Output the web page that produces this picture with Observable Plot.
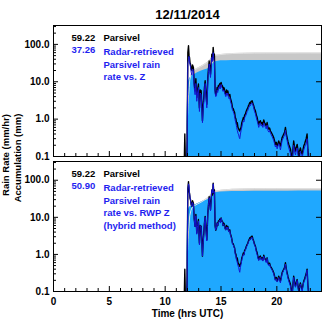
<!DOCTYPE html>
<html>
<head>
<meta charset="utf-8">
<script src="https://cdn.jsdelivr.net/npm/d3@7"></script>
<script src="https://cdn.jsdelivr.net/npm/@observablehq/plot@0.6"></script>
<style>
  html, body { margin: 0; padding: 0; background: white; }
  #wrap { position: relative; width: 322px; height: 320px; overflow: hidden; font-family: "Liberation Sans", Arial, sans-serif; }
  #wrap svg { display: block; }
  .yt { position: absolute; transform: translate(-50%, -50%) rotate(-90deg); white-space: nowrap; font: bold 9.5px "Liberation Sans", Arial, sans-serif; color: #000; }
</style>
</head>
<body>
<div id="wrap">
  <div id="top"></div>
  <div id="bot"></div>
  <div class="yt" style="left:5px; top:155px;">Rain Rate (mm/hr)</div>
  <div class="yt" style="left:17px; top:158px;">Accumulation (mm)</div>
</div>
<script>
// ---------------- data ----------------
const title = "12/11/2014";
const parsivelTotal = "59.22";
const radarTotalZ = "37.26";
const radarTotalHybrid = "50.90";
const legendParsivel = "Parsivel";
const legendZ = "Radar-retrieved\nParsivel rain\nrate vs. Z";
const legendHybrid = "Radar-retrieved\nParsivel rain\nrate vs. RWP Z\n(hybrid method)";

const xTicks = [0, 5, 10, 15, 20];
const xMinorTicks = [1,2,3,4,6,7,8,9,11,12,13,14,16,17,18,19,21,22,23];
const yTicks = [0.1, 1, 10, 100];
const yMinorTicks = [0.2,0.3,0.4,0.5,0.6,0.7,0.8,0.9,2,3,4,5,6,7,8,9,20,30,40,50,60,70,80,90,200,300];

// rain rate time (hrs UTC)
const rateTime = [11.70,11.76,11.82,11.95,12.03,12.09,12.14,12.18,12.23,12.27,12.33,12.39,12.45,12.53,12.60,12.68,12.75,12.83,12.90,12.98,
13.03,13.07,13.14,13.22,13.28,13.34,13.40,13.46,13.52,13.58,13.65,13.73,13.78,13.82,13.88,13.94,14.00,14.06,14.12,14.18,
14.24,14.30,14.36,14.41,14.47,14.53,14.59,14.65,14.71,14.77,14.83,14.90,14.95,15.01,15.07,15.13,15.19,15.25,15.31,15.37,
15.43,15.50,15.55,15.61,15.67,15.73,15.79,15.85,15.91,15.97,16.03,16.10,16.16,16.22,16.28,16.34,16.40,16.46,16.52,16.58,
16.64,16.68,16.74,16.80,16.86,16.92,17.00,17.06,17.12,17.18,17.25,17.34,17.40,17.46,17.52,17.58,17.64,17.70,17.79,17.86,
17.93,18.00,18.08,18.16,18.24,18.31,18.38,18.45,18.53,18.60,18.68,18.75,18.83,18.90,18.98,19.05,19.13,19.20,19.28,19.35,
19.43,19.50,19.58,19.65,19.72,19.80,19.87,19.95,20.03,20.10,20.17,20.25,20.32,20.40,20.47,20.55,20.62,20.70,20.77,20.85,
20.92,21.00,21.07,21.15,21.22,21.30,21.37,21.44,21.51,21.58,21.67,21.75,21.82,21.90,21.96,22.04,22.11,22.19,22.27,22.34,
22.41,22.49,22.56,22.63,22.71,22.78,22.86,22.95];
// Parsivel rain rate (mm/hr)
const rateParsivel = [0.05,0.4,0.05,0.08,60,92,50,45,32,30,22,20,28,24,9,5.7,12,3.8,6,8.7,
3.5,2.0,6,5.7,2.5,0.9,2.2,3.8,7,10.6,5,2.5,6,13,22,36,25,16,30,55,
40,83,45,55,6,4.5,5,7,6,8,7.8,9,7.5,9.6,8,7.8,6,7,6.4,5,
4.7,6,5,5.7,4.5,4.2,4.6,3.5,3.1,2.6,2.0,1.9,1.67,1.5,1.1,1.0,0.73,0.8,0.6,0.55,
0.5,0.48,0.55,0.6,0.8,0.9,1.1,1.0,1.3,1.36,1.6,1.85,2.0,2.3,2.5,2.8,2.6,3.0,3.1,2.6,
2.27,1.9,1.67,1.3,1.1,0.85,0.73,0.85,0.9,0.75,0.81,0.7,0.95,0.8,0.73,0.65,0.81,0.6,0.54,0.58,
0.48,0.44,0.40,0.36,0.32,0.26,0.21,0.24,0.19,0.22,0.26,0.22,0.19,0.25,0.32,0.36,0.40,0.45,0.6,0.4,
0.32,0.25,0.21,0.18,0.157,0.11,0.08,0.15,0.26,0.18,0.14,0.18,0.21,0.14,0.104,0.14,0.17,0.13,0.115,0.15,
0.19,0.22,0.26,0.3,0.40,0.15,0.08,0.05];
// radar-retrieved rain rate vs. Z (mm/hr)
const rateRadarZ = [0.05,0.05,0.05,0.06,30,40,48,35,28,25,18,15,22,20,7,4.5,9,3,5,7,
2.8,1.6,5,4.5,2,0.8,1.8,3,6,9,4,2,5,11,18,30,20,13,25,45,
35,60,38,35,5,4,4.2,6,5.2,7,6.5,8,6.5,8.5,7,6.8,5.5,6,5.5,4.5,
4,5,4.3,5,3.8,3.5,3.8,3,2.6,2.2,1.7,1.6,1.4,1.2,0.9,0.8,0.6,0.5,0.42,0.38,
0.32,0.3,0.4,0.5,0.6,0.75,0.9,0.85,1.1,1.2,1.3,1.6,1.7,2.0,2.1,2.4,2.3,2.6,2.7,2.4,
2.0,1.6,1.4,1.1,0.9,0.75,0.6,0.72,0.8,0.65,0.7,0.6,0.8,0.68,0.6,0.55,0.7,0.5,0.45,0.5,
0.42,0.38,0.34,0.3,0.27,0.22,0.18,0.2,0.16,0.19,0.22,0.19,0.15,0.2,0.27,0.3,0.34,0.38,0.5,0.34,
0.27,0.2,0.17,0.14,0.12,0.09,0.07,0.12,0.2,0.14,0.11,0.15,0.17,0.11,0.085,0.12,0.14,0.1,0.09,0.12,
0.15,0.18,0.2,0.22,0.3,0.12,0.06,0.05];
// radar-retrieved rain rate vs. RWP Z, hybrid (mm/hr)
const rateRadarHybrid = [0.05,0.05,0.05,0.06,55,80,70,45,35,28,22,20,25,22,9,5.5,11,3.5,6,8,
3.2,1.8,6,5.5,2.3,0.9,2,3.5,7,10,4.5,2.3,6,13,21,34,24,15,30,55,
45,80,45,50,6,4.5,5,7,6,7.5,7.5,8.5,7,9.5,8,7.5,6,6.5,6,5,
4.5,5.5,4.8,5.5,4.3,4,4.4,3.3,3,2.5,1.9,1.8,1.6,1.4,1.0,0.9,0.7,0.6,0.5,0.45,
0.36,0.33,0.45,0.55,0.7,0.85,1.0,0.95,1.25,1.3,1.5,1.75,1.9,2.2,2.4,2.6,2.5,2.8,2.9,2.5,
2.2,1.8,1.6,1.2,1.0,0.8,0.68,0.8,0.85,0.7,0.78,0.66,0.9,0.75,0.7,0.6,0.78,0.55,0.5,0.55,
0.45,0.42,0.38,0.34,0.3,0.24,0.2,0.22,0.18,0.2,0.24,0.2,0.17,0.23,0.3,0.34,0.38,0.42,0.55,0.38,
0.3,0.23,0.19,0.16,0.14,0.1,0.08,0.14,0.24,0.16,0.13,0.17,0.2,0.13,0.1,0.13,0.16,0.12,0.1,0.14,
0.18,0.2,0.24,0.28,0.38,0.14,0.07,0.05];

// accumulation time (hrs UTC)
const accTime = [11.76,11.85,11.92,11.97,12.0,12.05,12.1,12.15,12.2,12.3,12.4,12.6,12.9,13.2,13.5,13.8,14.0,14.2,14.4,14.6,15.0,15.5,16.0,17.0,18.0,19.0,20.0,21.0,22.0,23.0,24.0];
const accParsivel = [0.1,0.15,0.3,0.7,1.2,2.5,4.5,7,11,15,18,20.5,23,25.5,29,33,38,44,49,51.5,53.5,55.5,56.8,57.8,58.6,58.9,59.05,59.12,59.18,59.22,59.22];
const accRadarZ = [0.1,0.1,0.1,1.5,4,8,10.5,11.5,12.3,13.5,14.5,15.5,17.5,19,20.5,22,24,28,33,35,36.2,36.6,36.8,37.0,37.1,37.18,37.22,37.24,37.25,37.26,37.26];
const accRadarHybrid = [0.1,0.1,0.1,3,9,14,16.5,18,19,19.8,20.3,21,23.2,25.5,28,30,33,37,44,46.5,48,48.8,49.4,50.0,50.4,50.65,50.8,50.86,50.89,50.9,50.9];

// ---------------- drawing ----------------
const W = 322, ML = 53, MR = 1;
const plotW = W - ML - MR;
const font = '"Liberation Sans", Arial, sans-serif';

function panel({height, marginTop, marginBottom, radarRate, radarAcc, radarTotal, legendText, showX, showTitle}) {
  const plotH = height - marginTop - marginBottom;
  const rateRows = rateTime.map((t, i) => ({t, parsivel: rateParsivel[i], radar: radarRate[i]}));
  const accRows = accTime.map((t, i) => ({t, parsivel: accParsivel[i], radar: radarAcc[i]}));
  const marks = [
    Plot.areaY(accRows, {x: "t", y1: () => 0.1, y2: "parsivel", fill: "#c8c8c8"}),
    Plot.areaY(accRows, {x: "t", y1: () => 0.1, y2: "radar", fill: "#1fa8ff"}),
    Plot.line(accRows, {x: "t", y: "parsivel", stroke: "#e4e4e4", strokeWidth: 1}),
    Plot.line(rateRows, {x: "t", y: "parsivel", stroke: "#000", strokeWidth: 1.4, clip: true}),
    Plot.line(rateRows, {x: "t", y: "radar", stroke: "#1414d2", strokeWidth: 1, clip: true}),
    Plot.tickY(yTicks, {y: d => d, insetRight: plotW - 5, stroke: "#000"}),
    Plot.tickY(yMinorTicks, {y: d => d, insetRight: plotW - 3, stroke: "#000"}),
    Plot.tickY(yTicks.slice(1), {y: d => d, insetLeft: plotW - 5, stroke: "#000"}),
    Plot.tickX(xMinorTicks, {x: d => d, insetTop: plotH - 3, stroke: "#000"}),
    Plot.tickX(xTicks.slice(1), {x: d => d, insetTop: plotH - 5, stroke: "#000"}),
    Plot.frame({stroke: "#000", strokeWidth: 1}),
    Plot.text([parsivelTotal], {text: d => d, frameAnchor: "top-left", dx: 18, dy: 12, textAnchor: "start", lineAnchor: "middle", fill: "#000", fontSize: 9.5, fontWeight: "bold"}),
    Plot.text([legendParsivel], {text: d => d, frameAnchor: "top-left", dx: 50, dy: 12, textAnchor: "start", lineAnchor: "middle", fill: "#000", fontSize: 9.5, fontWeight: "bold"}),
    Plot.text([radarTotal], {text: d => d, frameAnchor: "top-left", dx: 18, dy: 24.5, textAnchor: "start", lineAnchor: "middle", fill: "#1e1ef0", fontSize: 9.5, fontWeight: "bold"}),
    Plot.text([legendText], {text: d => d, frameAnchor: "top-left", dx: 50, dy: 21, textAnchor: "start", lineAnchor: "top", lineHeight: 1.32, fill: "#1e1ef0", fontSize: 9.5, fontWeight: "bold"})
  ];
  if (showTitle) {
    marks.push(Plot.text([title], {text: d => d, frameAnchor: "top", dy: -11, lineAnchor: "middle", fontSize: 13, fontWeight: "bold", fill: "#000"}));
  }
  if (showX) {
    marks.push(Plot.text(["Time (hrs UTC)"], {text: d => d, frameAnchor: "bottom", dy: 22, lineAnchor: "middle", fontSize: 10, fontWeight: "bold", fill: "#000"}));
  }
  return Plot.plot({
    width: W, height, marginLeft: ML, marginRight: MR, marginTop, marginBottom,
    style: {fontFamily: font, fontSize: "10px", fontWeight: "bold", background: "white", color: "#000", overflow: "visible"},
    x: {domain: [0, 24], ticks: xTicks, tickSize: 0, tickPadding: 6, label: null, axis: showX ? "bottom" : null},
    y: {type: "log", domain: [0.1, 320], ticks: yTicks, tickFormat: d3.format(".1f"), tickSize: 0, tickPadding: 4, label: null},
    marks
  });
}

document.getElementById("top").append(panel({
  height: 158, marginTop: 25, marginBottom: 2,
  radarRate: rateRadarZ, radarAcc: accRadarZ, radarTotal: radarTotalZ, legendText: legendZ,
  showX: false, showTitle: true
}));
document.getElementById("bot").append(panel({
  height: 162, marginTop: 3, marginBottom: 29,
  radarRate: rateRadarHybrid, radarAcc: accRadarHybrid, radarTotal: radarTotalHybrid, legendText: legendHybrid,
  showX: true, showTitle: false
}));
</script>
</body>
</html>
